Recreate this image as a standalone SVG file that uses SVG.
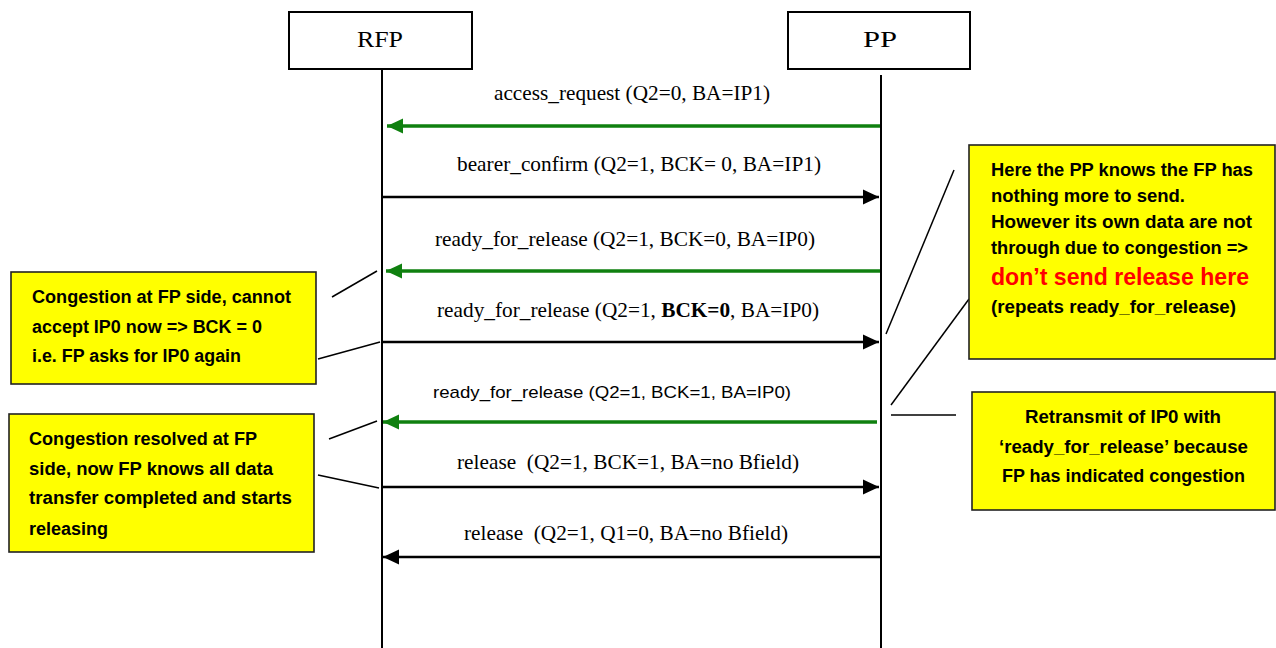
<svg xmlns="http://www.w3.org/2000/svg" width="1276" height="648" viewBox="0 0 1276 648">
<style>
.ent{fill:#fff;stroke:#000;stroke-width:2}
.life{stroke:#000;stroke-width:2;fill:none}
.msg{font-family:"Liberation Serif","Times New Roman",serif;font-size:21px;fill:#000;white-space:pre}
.msgs{font-family:"Liberation Sans",Arial,sans-serif;font-size:17px;fill:#000;white-space:pre}
.ttl{font-family:"Liberation Serif","Times New Roman",serif;font-size:24px;fill:#000;text-anchor:middle}
.note{fill:#ffff00;stroke:#222;stroke-width:1.6}
.nt{font-family:"Liberation Sans",Arial,sans-serif;font-size:17.5px;font-weight:bold;fill:#000}
.red{fill:#ff0000;font-size:24px}
.blk{stroke:#000;stroke-width:2.5;fill:none}
.grn{stroke:#0f800f;stroke-width:3.5;fill:none}
.lead{stroke:#000;stroke-width:1.5;fill:none}
</style>
<defs>
<marker id="ab" viewBox="0 0 16 16" markerWidth="16" markerHeight="16" refX="16" refY="8" orient="auto" markerUnits="userSpaceOnUse"><path d="M0,0.5 L16,8 L0,15.5 z" fill="#000"/></marker>
<marker id="ag" viewBox="0 0 16 16" markerWidth="16" markerHeight="16" refX="16" refY="8" orient="auto" markerUnits="userSpaceOnUse"><path d="M0,0.5 L16,8 L0,15.5 z" fill="#0f800f"/></marker>
</defs>
<rect width="1276" height="648" fill="#fff"/>

<g id="rfp">
<rect class="ent" x="289" y="12" width="183" height="57"/>
<text class="ttl" x="380" y="47" textLength="46" lengthAdjust="spacingAndGlyphs">RFP</text>
<line class="life" x1="382" y1="69" x2="382" y2="648"/>
</g>
<g id="pp">
<rect class="ent" x="788" y="12" width="182" height="57"/>
<text class="ttl" x="880" y="47" textLength="34" lengthAdjust="spacingAndGlyphs">PP</text>
<line class="life" x1="881" y1="75" x2="881" y2="648"/>
</g>

<g id="connectors">
<line class="grn" x1="880" y1="126" x2="387" y2="126" marker-end="url(#ag)"/>
<line class="blk" x1="382" y1="197" x2="879" y2="197" marker-end="url(#ab)"/>
<line class="grn" x1="880" y1="271" x2="386" y2="271" marker-end="url(#ag)"/>
<line class="blk" x1="382" y1="342" x2="879" y2="342" marker-end="url(#ab)"/>
<line class="grn" x1="877" y1="422" x2="383" y2="422" marker-end="url(#ag)"/>
<line class="blk" x1="382" y1="487" x2="879" y2="487" marker-end="url(#ab)"/>
<line class="blk" x1="881" y1="557" x2="383" y2="557" marker-end="url(#ab)"/>
<line class="lead" x1="332" y1="297" x2="377" y2="271"/>
<line class="lead" x1="318" y1="359" x2="380" y2="342"/>
<line class="lead" x1="329" y1="439" x2="377" y2="421"/>
<line class="lead" x1="318" y1="475" x2="379" y2="488"/>
<line class="lead" x1="954" y1="170" x2="886" y2="334"/>
<line class="lead" x1="969" y1="299" x2="891" y2="405"/>
<line class="lead" x1="891" y1="415" x2="956" y2="415"/>
</g>

<g id="labels">
<text class="msg" x="494" y="100" textLength="276" lengthAdjust="spacingAndGlyphs">access_request (Q2=0, BA=IP1)</text>
<text class="msg" x="457" y="171" textLength="364" lengthAdjust="spacingAndGlyphs">bearer_confirm (Q2=1, BCK= 0, BA=IP1)</text>
<text class="msg" x="435" y="246" textLength="380" lengthAdjust="spacingAndGlyphs">ready_for_release (Q2=1, BCK=0, BA=IP0)</text>
<text class="msg" x="437" y="317" textLength="382" lengthAdjust="spacingAndGlyphs">ready_for_release (Q2=1, <tspan font-weight="bold">BCK=0</tspan>, BA=IP0)</text>
<text class="msgs" x="433" y="398" textLength="358" lengthAdjust="spacingAndGlyphs">ready_for_release (Q2=1, BCK=1, BA=IP0)</text>
<text class="msg" x="457" y="469" textLength="342" lengthAdjust="spacingAndGlyphs">release  (Q2=1, BCK=1, BA=no Bfield)</text>
<text class="msg" x="464" y="540" textLength="324" lengthAdjust="spacingAndGlyphs">release  (Q2=1, Q1=0, BA=no Bfield)</text>
</g>

<g id="note-congestion">
<rect class="note" x="11" y="272" width="305" height="112"/>
<text class="nt" x="32" y="303" textLength="259" lengthAdjust="spacingAndGlyphs">Congestion at FP side, cannot</text>
<text class="nt" x="32" y="333" textLength="230" lengthAdjust="spacingAndGlyphs">accept IP0 now =&gt; BCK = 0</text>
<text class="nt" x="32" y="362" textLength="209" lengthAdjust="spacingAndGlyphs">i.e. FP asks for IP0 again</text>
</g>

<g id="note-resolved">
<rect class="note" x="9" y="414" width="305" height="138"/>
<text class="nt" x="29" y="445" textLength="228" lengthAdjust="spacingAndGlyphs">Congestion resolved at FP</text>
<text class="nt" x="29" y="475" textLength="244" lengthAdjust="spacingAndGlyphs">side, now FP knows all data</text>
<text class="nt" x="29" y="504" textLength="263" lengthAdjust="spacingAndGlyphs">transfer completed and starts</text>
<text class="nt" x="29" y="535" textLength="79" lengthAdjust="spacingAndGlyphs">releasing</text>
</g>

<g id="note-pp">
<rect class="note" x="969" y="145" width="306" height="214"/>
<text class="nt" x="991" y="176" textLength="262" lengthAdjust="spacingAndGlyphs">Here the PP knows the FP has</text>
<text class="nt" x="991" y="202" textLength="194" lengthAdjust="spacingAndGlyphs">nothing more to send.</text>
<text class="nt" x="991" y="228" textLength="261" lengthAdjust="spacingAndGlyphs">However its own data are not</text>
<text class="nt" x="991" y="254" textLength="257" lengthAdjust="spacingAndGlyphs">through due to congestion =&gt;</text>
<text class="nt red" x="991" y="285" textLength="258" lengthAdjust="spacingAndGlyphs">don’t send release here</text>
<text class="nt" x="991" y="313" textLength="245" lengthAdjust="spacingAndGlyphs">(repeats ready_for_release)</text>
</g>

<g id="note-retransmit">
<rect class="note" x="972" y="392" width="303" height="118"/>
<text class="nt" x="1025" y="423" textLength="196" lengthAdjust="spacingAndGlyphs">Retransmit of IP0 with</text>
<text class="nt" x="999" y="453" textLength="249" lengthAdjust="spacingAndGlyphs">‘ready_for_release’ because</text>
<text class="nt" x="1002" y="482" textLength="243" lengthAdjust="spacingAndGlyphs">FP has indicated congestion</text>
</g>
</svg>
